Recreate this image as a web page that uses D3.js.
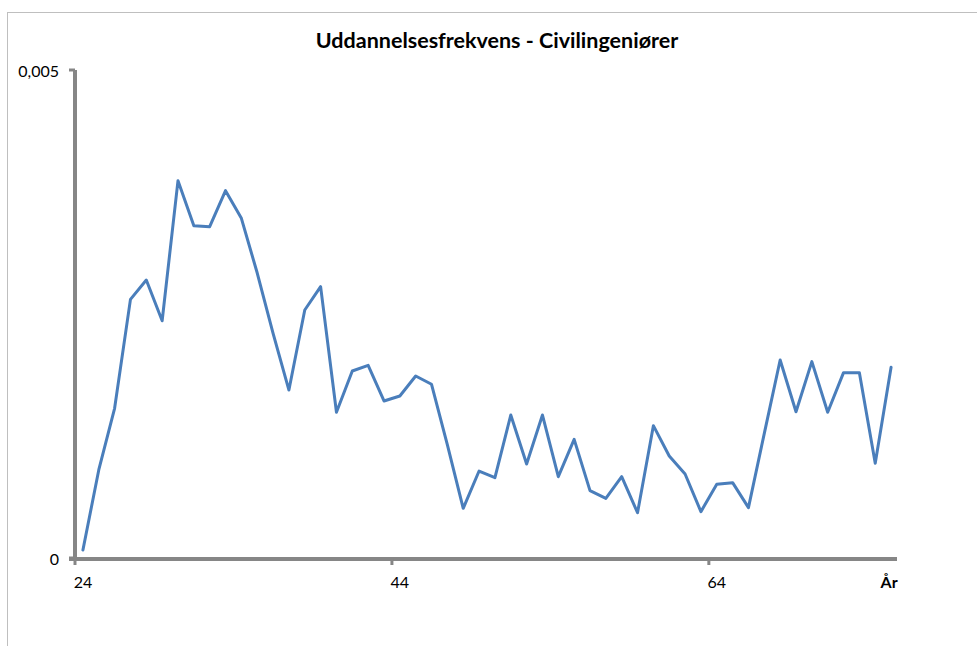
<!DOCTYPE html>
<html>
<head>
<meta charset="utf-8">
<script src="https://cdn.jsdelivr.net/npm/d3@7"></script>
<style>
  body { margin: 0; background: #fff; }
  text { font-family: Lato, "Open Sans", sans-serif; fill: #000; }
</style>
</head>
<body>
<div id="chart"></div>
<script>
// data (age -> share)
var years = d3.range(24, 76);
var values = [
  0.000082, 0.000902, 0.001534, 0.002650, 0.002848, 0.002431, 0.003866, 0.003405,
  0.003395, 0.003764, 0.003480, 0.002920, 0.002302, 0.001721, 0.002541, 0.002780,
  0.001493, 0.001916, 0.001974, 0.001609, 0.001660, 0.001865, 0.001780, 0.001158,
  0.000509, 0.000891, 0.000823, 0.001465, 0.000963, 0.001465, 0.000833, 0.001216,
  0.000690, 0.000611, 0.000833, 0.000464, 0.001356, 0.001045, 0.000861, 0.000475,
  0.000755, 0.000772, 0.000516, 0.001277, 0.002029, 0.001499, 0.002012, 0.001493,
  0.001899, 0.001899, 0.000970, 0.001954
];
var xLabels = [24, 44, 64];
var yTicks = [0, 0.005];
var title = "Uddannelsesfrekvens - Civilingeniører";
var xTitle = "År";

var width = 977, height = 646;
var plotLeft = 75, plotRight = 899, plotTop = 70, plotBottom = 558;

var svg = d3.select("#chart").append("svg")
    .attr("width", width)
    .attr("height", height);

// chart frame
svg.append("rect")
    .attr("x", 7.5).attr("y", 12.5)
    .attr("width", 1000).attr("height", 700)
    .attr("fill", "none")
    .attr("stroke", "#bfbfbf")
    .attr("stroke-width", 1);

var data = years.map(function(d, i) { return {year: d, v: values[i]}; });

var xscale = d3.scaleBand().domain(years).range([plotLeft, plotRight]).padding(0);
var yscale = d3.scaleLinear().domain([0, 0.005]).range([plotBottom, plotTop]);

// title
svg.append("text")
    .attr("x", 497).attr("y", 48)
    .attr("text-anchor", "middle")
    .style("font-weight", "bold")
    .style("font-size", "21.5px")
    .text(title);

var axisColor = "#868686";

// y axis line + ticks
svg.append("line")
    .attr("x1", plotLeft).attr("x2", plotLeft)
    .attr("y1", plotTop).attr("y2", plotBottom + 2)
    .attr("stroke", axisColor).attr("stroke-width", 4);

svg.selectAll(".ytick").data(yTicks).enter()
    .append("line")
    .attr("class", "ytick")
    .attr("x1", plotLeft - 6).attr("x2", plotLeft)
    .attr("y1", function(d) { return yscale(d); })
    .attr("y2", function(d) { return yscale(d); })
    .attr("stroke", axisColor).attr("stroke-width", 3);

svg.selectAll(".ylab").data(yTicks).enter()
    .append("text")
    .attr("class", "ylab")
    .attr("x", 59)
    .attr("y", function(d) { return yscale(d) + 7; })
    .attr("text-anchor", "end")
    .style("font-size", "16px")
    .text(function(d) { return d === 0 ? "0" : d3.format(".3f")(d).replace(".", ","); });

// x axis line + ticks
svg.append("line")
    .attr("x1", plotLeft - 6).attr("x2", plotRight - 2)
    .attr("y1", plotBottom + 1).attr("y2", plotBottom + 1)
    .attr("stroke", axisColor).attr("stroke-width", 4);

svg.selectAll(".xtick").data(xLabels).enter()
    .append("line")
    .attr("class", "xtick")
    .attr("x1", function(d) { return xscale(d); })
    .attr("x2", function(d) { return xscale(d); })
    .attr("y1", plotBottom).attr("y2", plotBottom + 7)
    .attr("stroke", axisColor).attr("stroke-width", 3);

svg.selectAll(".xlab").data(xLabels).enter()
    .append("text")
    .attr("class", "xlab")
    .attr("x", function(d) { return xscale(d) + xscale.bandwidth() / 2; })
    .attr("y", 588)
    .attr("text-anchor", "middle")
    .style("font-size", "16px")
    .text(function(d) { return d; });

svg.append("text")
    .attr("x", xscale(75) + xscale.bandwidth() / 2 - 2)
    .attr("y", 588)
    .attr("text-anchor", "middle")
    .style("font-size", "16px")
    .style("font-weight", "bold")
    .text(xTitle);

// the series
var line = d3.line()
    .x(function(d) { return xscale(d.year) + xscale.bandwidth() / 2; })
    .y(function(d) { return yscale(d.v); });

svg.append("path")
    .datum(data)
    .attr("d", line)
    .attr("fill", "none")
    .attr("stroke", "#4a7ebb")
    .attr("stroke-width", 3)
    .attr("stroke-linejoin", "round")
    .attr("stroke-linecap", "round");
</script>
</body>
</html>
